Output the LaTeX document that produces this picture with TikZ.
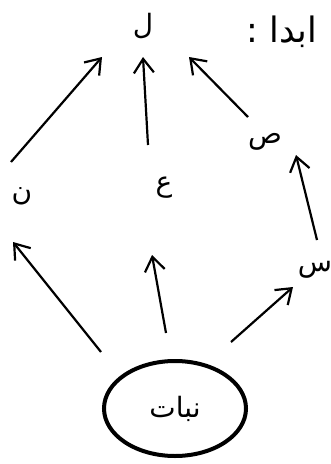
\documentclass[tikz,border=0pt]{standalone}
\usepackage{fontspec}
\setmainfont{Liberation Sans}
\newfontfamily\arabicfont[Script=Arabic]{DejaVu Sans}
\TeXXeTstate=1
\usetikzlibrary{arrows.meta,shapes.geometric}
\begin{document}
\begin{tikzpicture}[x=1pt,y=-1pt,
  arr/.style={line width=2.2pt,-{Straight Barb[length=14pt,width=20pt]}},
  lbl/.style={inner sep=0pt,font=\arabicfont\fontsize{28}{30}\selectfont},
  ttl/.style={inner sep=0pt,font=\arabicfont\fontsize{35}{38}\selectfont},
  plant/.style={ellipse,draw,line width=4pt,minimum width=142pt,minimum height=95pt,inner sep=0pt,font=\arabicfont\fontsize{28}{30}\selectfont}]
\useasboundingbox (0,0) rectangle (331,464);
\fill[white] (0,0) rectangle (331,464);
% nodes
\node[ttl] (title) at (282,32) {\beginR ابدا :\endR};
\node[lbl] (l) at (143,26) {\beginR ل\endR};
\node[lbl] (n) at (22,196) {\beginR ن\endR};
\node[lbl] (ain) at (164,188) {\beginR ع\endR};
\node[lbl] (sad) at (265,142) {\beginR ص\endR};
\node[lbl] (sin) at (315,270) {\beginR س\endR};
\node[plant] (plant) at (175,408.5) {\beginR نبات\endR};
% arrow end points
\coordinate (nTop) at (11,162);
\coordinate (lA) at (102,57);
\coordinate (ainTop) at (148,145);
\coordinate (lB) at (143,57);
\coordinate (sadTop) at (248,117);
\coordinate (lC) at (189,57);
\coordinate (sinTop) at (317,240);
\coordinate (sadBot) at (296,155);
\coordinate (pA) at (101,352);
\coordinate (nBot) at (13,242);
\coordinate (pB) at (166,333);
\coordinate (ainBot) at (152,255);
\coordinate (pC) at (231,342);
\coordinate (sinBot) at (293,287);
% connectors
\draw[arr] (nTop) -- (lA);
\draw[arr] (ainTop) -- (lB);
\draw[arr] (sadTop) -- (lC);
\draw[arr] (sinTop) -- (sadBot);
\draw[arr] (pA) -- (nBot);
\draw[arr] (pB) -- (ainBot);
\draw[arr] (pC) -- (sinBot);
\end{tikzpicture}
\end{document}
